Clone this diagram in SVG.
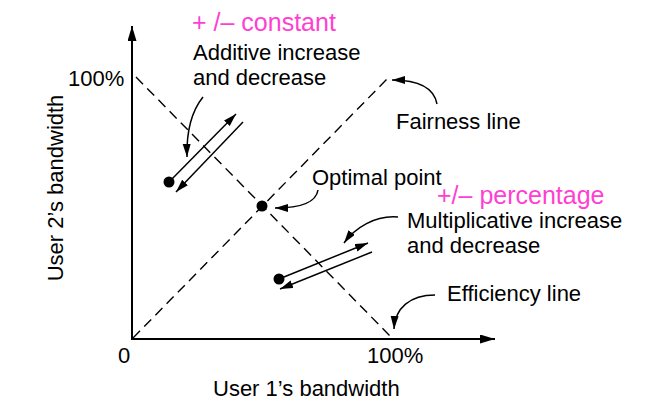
<svg xmlns="http://www.w3.org/2000/svg" width="664" height="408" viewBox="0 0 664 408">
<style>
text{font-family:"Liberation Sans",Arial,sans-serif;font-size:22px;fill:#000}
.mag{fill:#ff3fd2;font-size:25px}
.ax{stroke:#000;stroke-width:2;fill:none}
.dash{stroke:#000;stroke-width:1.4;stroke-dasharray:10 6;fill:none}
.arr{stroke:#000;stroke-width:1.5;fill:none}
</style>
<defs>
<marker id="ah" markerUnits="userSpaceOnUse" markerWidth="14" markerHeight="10" refX="13" refY="4" orient="auto">
<path d="M0,0 L13,4 L0,8 z" fill="#000"/>
</marker>
<marker id="axh" markerUnits="userSpaceOnUse" markerWidth="16" markerHeight="10" refX="15" refY="4.5" orient="auto">
<path d="M0,0 L15,4.5 L0,9 z" fill="#000"/>
</marker>
</defs>
<rect width="664" height="408" fill="#fff"/>
<g id="axes">
<path class="ax" d="M132,340 V26" marker-end="url(#axh)"/>
<path class="ax" d="M131,339 H495" marker-end="url(#axh)"/>
</g>
<g id="efficiency-line"><path class="dash" d="M136,77 L392,338"/></g>
<g id="fairness-line"><path class="dash" d="M133,338 L390,76"/></g>
<g id="optimal-point"><circle cx="262" cy="206" r="5.5" fill="#000"/></g>
<g id="additive-point"><circle cx="169" cy="182" r="5.5" fill="#000"/></g>
<g id="multiplicative-point"><circle cx="279" cy="279" r="5.5" fill="#000"/></g>
<g id="connectors">
<path class="arr" d="M169,182 L236,114" marker-end="url(#ah)"/>
<path class="arr" d="M243,122 L176,192" marker-end="url(#ah)"/>
<path class="arr" d="M279,279 L368,243" marker-end="url(#ah)"/>
<path class="arr" d="M372,252 L280,289" marker-end="url(#ah)"/>
<path class="arr" d="M203,97 Q186,118 187,157" marker-end="url(#ah)"/>
<path class="arr" d="M318,190 C316,203 300,208 275,208" marker-end="url(#ah)"/>
<path class="arr" d="M398,217 C375,215 355,228 344,243" marker-end="url(#ah)"/>
<path class="arr" d="M437,104 C434,88 418,80 392,80" marker-end="url(#ah)"/>
<path class="arr" d="M435,295 C410,295 395,308 394,329" marker-end="url(#ah)"/>
</g>
<g id="labels">
<text class="mag" x="192" y="31">+ /– constant</text>
<text x="193" y="60">Additive increase</text>
<text x="193" y="85">and decrease</text>
<text x="68" y="86">100%</text>
<text x="63" y="188" text-anchor="middle" transform="rotate(-90 63 188)">User 2’s bandwidth</text>
<text x="118" y="363">0</text>
<text x="367" y="363">100%</text>
<text x="213" y="396">User 1’s bandwidth</text>
<text x="396" y="129">Fairness line</text>
<text x="312" y="185">Optimal point</text>
<text class="mag" x="437" y="204">+/– percentage</text>
<text x="407" y="228">Multiplicative increase</text>
<text x="407" y="253">and decrease</text>
<text x="447" y="301">Efficiency line</text>
</g>
</svg>
